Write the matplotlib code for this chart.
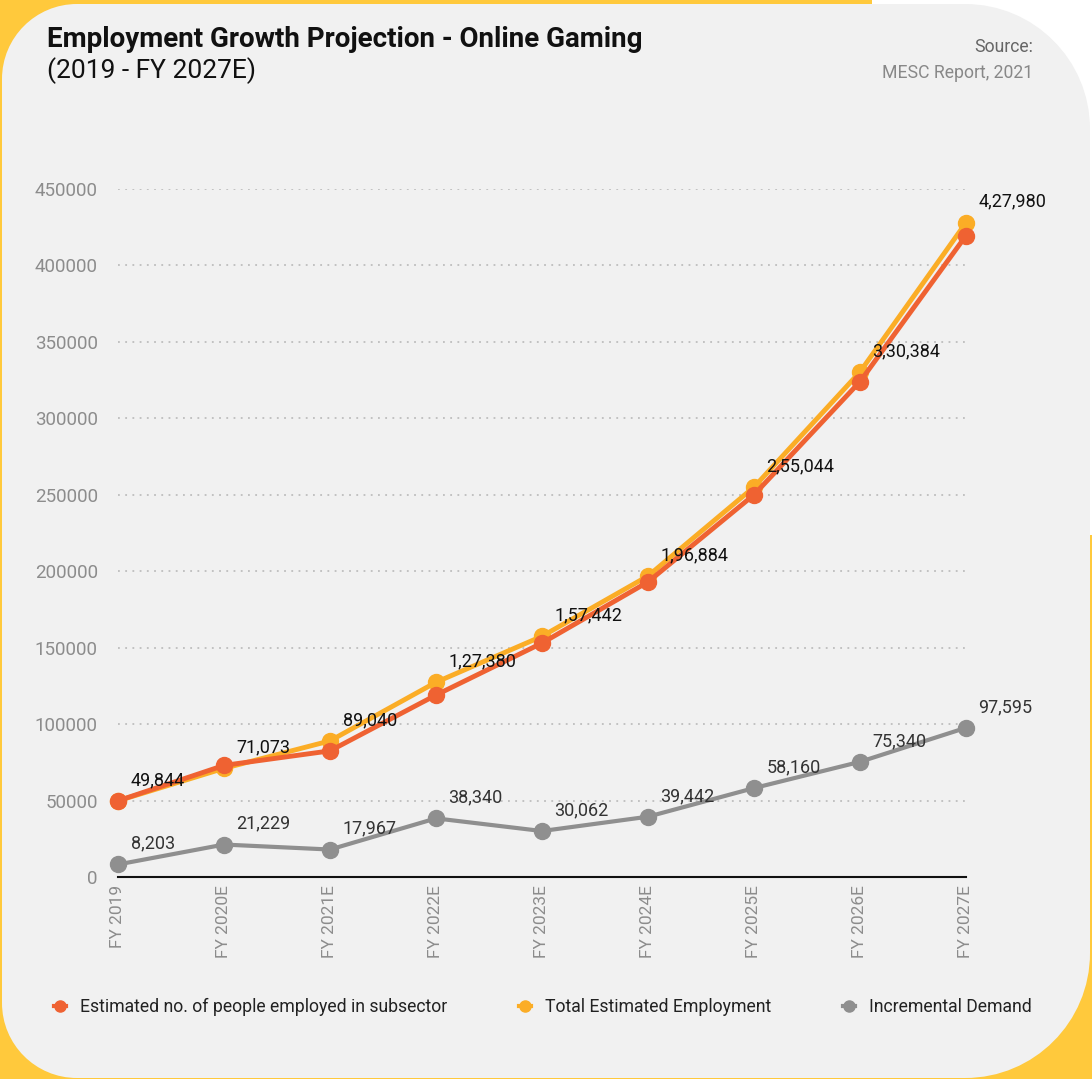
import matplotlib
matplotlib.use("Agg")
import matplotlib.pyplot as plt
from matplotlib.path import Path
from matplotlib.patches import PathPatch, Rectangle
from matplotlib.lines import Line2D

plt.rcParams['font.family'] = ['Roboto', 'DejaVu Sans']

# ---- data ----
years = ["FY 2019", "FY 2020E", "FY 2021E", "FY 2022E", "FY 2023E",
         "FY 2024E", "FY 2025E", "FY 2026E", "FY 2027E"]
subsector = [49844, 73000, 82500, 119000, 153000, 193000, 250000, 324000, 419500]
total = [49844, 71073, 89040, 127380, 157442, 196884, 255044, 330384, 427980]
incremental = [8203, 21229, 17967, 38340, 30062, 39442, 58160, 75340, 97595]
yticks = [0, 50000, 100000, 150000, 200000, 250000, 300000, 350000, 400000, 450000]

C_SUB = "#EF6232"
C_TOT = "#FBAD26"
C_INC = "#8F8F8F"
YELLOW = "#FFC93C"
CARD = "#F1F1F1"

W, H = 1092, 1079
fig = plt.figure(figsize=(W / 100, H / 100), dpi=100)
fig.patch.set_facecolor(YELLOW)

# ---- background card ----
bg = fig.add_axes([0, 0, 1, 1])
bg.set_xlim(0, W)
bg.set_ylim(H, 0)
bg.axis("off")
bg.add_patch(Rectangle((872, -5), W - 872 + 5, 540, facecolor="white", edgecolor="none"))


def rounded_path(x0, y0, x1, y1, r_tl, r_tr, r_br, r_bl):
    k = 0.5523
    verts = [(x0 + r_tl, y0), (x1 - r_tr, y0),
             (x1 - r_tr * (1 - k), y0), (x1, y0 + r_tr * (1 - k)), (x1, y0 + r_tr),
             (x1, y1 - r_br),
             (x1, y1 - r_br * (1 - k)), (x1 - r_br * (1 - k), y1), (x1 - r_br, y1),
             (x0 + r_bl, y1),
             (x0 + r_bl * (1 - k), y1), (x0, y1 - r_bl * (1 - k)), (x0, y1 - r_bl),
             (x0, y0 + r_tl),
             (x0, y0 + r_tl * (1 - k)), (x0 + r_tl * (1 - k), y0), (x0 + r_tl, y0),
             (x0 + r_tl, y0)]
    codes = [Path.MOVETO, Path.LINETO,
             Path.CURVE4, Path.CURVE4, Path.CURVE4,
             Path.LINETO,
             Path.CURVE4, Path.CURVE4, Path.CURVE4,
             Path.LINETO,
             Path.CURVE4, Path.CURVE4, Path.CURVE4,
             Path.LINETO,
             Path.CURVE4, Path.CURVE4, Path.CURVE4,
             Path.CLOSEPOLY]
    return Path(verts, codes)


bg.add_patch(PathPatch(rounded_path(2, 4, 1090, 1078, 75, 125, 125, 75),
                       facecolor=CARD, edgecolor="none"))

# ---- titles ----
bg.text(47, 47, "Employment Growth Projection - Online Gaming", fontsize=20,
        fontweight="semibold", color="#111111", ha="left", va="baseline")
bg.text(47, 78, "(2019 - FY 2027E)", fontsize=19, color="#111111",
        ha="left", va="baseline")
bg.text(1033, 52, "Source:", fontsize=12.7, color="#666666", ha="right", va="baseline")
bg.text(1033, 78, "MESC Report, 2021", fontsize=12.7, color="#888888", ha="right", va="baseline")

# ---- chart ----
ax_l, ax_r = 118 / W, 966 / W
ax_b, ax_t = (H - 877) / H, (H - 189) / H
ax = fig.add_axes([ax_l, ax_b, ax_r - ax_l, ax_t - ax_b])
ax.set_facecolor("none")
xs = list(range(len(years)))
ax.set_xlim(0, len(years) - 1)
ax.set_ylim(0, 450000)

for v in yticks[1:]:
    ax.axhline(v, color="#BDBDBD", lw=1.3, ls=(0, (1, 3)), zorder=1)

ax.plot(xs, total, color=C_TOT, lw=3.5, marker="o", ms=11.5, clip_on=False, zorder=3)
ax.plot(xs, subsector, color=C_SUB, lw=3.5, marker="o", ms=11.5, clip_on=False, zorder=4)
ax.plot(xs, incremental, color=C_INC, lw=3, marker="o", ms=11.5, clip_on=False, zorder=3)


def indian_format(v):
    s = str(v)
    if len(s) <= 3:
        return s
    head, tail = s[:-3], s[-3:]
    groups = []
    while len(head) > 2:
        groups.insert(0, head[-2:])
        head = head[:-2]
    if head:
        groups.insert(0, head)
    return ",".join(groups + [tail])


for x, v in zip(xs, total):
    ax.annotate(indian_format(v), (x, v), xytext=(9, 15), textcoords="offset points",
                ha="left", va="center", fontsize=13, color="#111111", zorder=6)
for x, v in zip(xs, incremental):
    ax.annotate(indian_format(v), (x, v), xytext=(9, 15), textcoords="offset points",
                ha="left", va="center", fontsize=13, color="#333333", zorder=6)

ax.set_xticks(xs)
ax.set_xticklabels(years, rotation=90, fontsize=12.5, color="#8C8C8C")
ax.set_yticks(yticks)
ax.set_yticklabels([str(v) for v in yticks], fontsize=13.5, color="#8C8C8C")
ax.tick_params(axis="both", length=0)
ax.tick_params(axis="y", pad=14.5)
ax.tick_params(axis="x", pad=6)
for s in ["top", "right", "left"]:
    ax.spines[s].set_visible(False)
ax.spines["bottom"].set_color("#111111")
ax.spines["bottom"].set_linewidth(1.5)
ax.spines["bottom"].set_zorder(2)

# ---- legend ----
legend_items = [("Estimated no. of people employed in subsector", C_SUB, 60),
                ("Total Estimated Employment", C_TOT, 525),
                ("Incremental Demand", C_INC, 849)]
for label, col, lx in legend_items:
    bg.add_line(Line2D([lx - 6, lx + 6], [1006, 1006], color=col, lw=3))
    bg.plot([lx], [1006], marker="o", ms=8, color=col)
    bg.text(lx + 20, 1007, label, fontsize=12.7, color="#222222", ha="left", va="center")

fig.savefig("out.png", dpi=100, facecolor=fig.get_facecolor())
